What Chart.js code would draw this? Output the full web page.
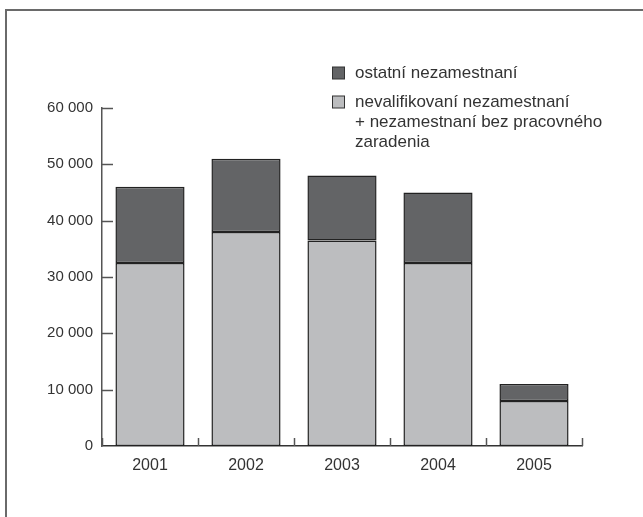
<!DOCTYPE html>
<html>
<head>
<meta charset="utf-8">
<script src="https://cdn.jsdelivr.net/npm/chart.js@4.4.0/dist/chart.umd.min.js"></script>
<style>
  html, body { margin: 0; padding: 0; background: #fff; }
  #wrap { position: relative; width: 643px; height: 517px; overflow: hidden; }
  #frame { position: absolute; left: 5px; top: 9px; width: 700px; height: 600px;
           border-top: 2px solid #6a6a6a; border-left: 2px solid #6a6a6a; }
  canvas { position: absolute; left: 0; top: 0; }
</style>
</head>
<body>
<div id="wrap">
  <div id="frame"></div>
  <canvas id="c" width="643" height="517"></canvas>
</div>
<script>
const categories = ['2001', '2002', '2003', '2004', '2005'];
const unskilled = [32500, 38000, 36500, 32500, 8000];
const others = [13500, 13000, 11500, 12500, 3000];
const yTicks = [0, 10000, 20000, 30000, 40000, 50000, 60000];
const seriesLabels = ['nevalifikovaní nezamestnaní\n+ nezamestnaní bez pracovného\nzaradenia', 'ostatní nezamestnaní'];

const FONT = '"Liberation Sans", Arial, sans-serif';
const TXT = '#333';
const AX = '#555';

function fmt(v) {
  return String(v).replace(/\B(?=(\d{3})+(?!\d))/g, ' ');
}

const extras = {
  id: 'extras',
  afterDraw(chart) {
    const ctx = chart.ctx;
    const xs = chart.scales.x, ys = chart.scales.y;
    const area = chart.chartArea;
    ctx.save();
    ctx.strokeStyle = AX;
    ctx.lineWidth = 1.5;
    yTicks.forEach(v => {
      if (v === 0) return;
      const y = Math.round(ys.getPixelForValue(v)) + 0.5;
      ctx.beginPath();
      ctx.moveTo(area.left, y);
      ctx.lineTo(area.left + 11, y);
      ctx.stroke();
    });
    const n = categories.length;
    const half = (xs.getPixelForValue(1) - xs.getPixelForValue(0)) / 2;
    for (let i = 0; i <= n; i++) {
      const x = Math.round(i < n ? xs.getPixelForValue(i) - half : xs.getPixelForValue(n - 1) + half) + 0.5;
      ctx.beginPath();
      ctx.moveTo(x, area.bottom);
      ctx.lineTo(x, area.bottom - 8);
      ctx.stroke();
    }
    ctx.font = '17px ' + FONT;
    ctx.textBaseline = 'middle';
    ctx.textAlign = 'left';
    const ds = chart.data.datasets.slice().reverse();
    let y = 73;
    ds.forEach(d => {
      ctx.fillStyle = d.backgroundColor;
      ctx.fillRect(332.5, y - 6, 12, 12);
      ctx.strokeStyle = '#333';
      ctx.lineWidth = 1;
      ctx.strokeRect(332.5, y - 6, 12, 12);
      ctx.fillStyle = TXT;
      const lines = d.label.split('\n');
      lines.forEach((ln, k) => {
        ctx.fillText(ln, 355, y + k * 20);
      });
      y += 29;
    });
    ctx.restore();
  }
};

new Chart(document.getElementById('c'), {
  type: 'bar',
  data: {
    labels: categories,
    datasets: [
      { label: seriesLabels[0], data: unskilled, backgroundColor: '#bcbdbf', borderColor: '#222', borderWidth: 1.5, borderSkipped: false },
      { label: seriesLabels[1], data: others, backgroundColor: '#636466', borderColor: '#222', borderWidth: 1.5, borderSkipped: false }
    ]
  },
  options: {
    responsive: false,
    animation: false,
    devicePixelRatio: 1,
    layout: { padding: { left: 0, top: 108, right: 61, bottom: 0 } },
    datasets: { bar: { barPercentage: 0.72, categoryPercentage: 1 } },
    plugins: { legend: { display: false }, tooltip: { enabled: false } },
    scales: {
      x: {
        stacked: true,
        grid: { display: false, drawTicks: false },
        border: { display: true, color: '#333', width: 1.5 },
        ticks: { color: TXT, font: { family: FONT, size: 16 }, padding: 10 },
        afterFit(s) { s.height = 71; }
      },
      y: {
        stacked: true,
        min: 0, max: 60000,
        afterBuildTicks(s) { s.ticks = yTicks.map(v => ({ value: v })); },
        grid: { display: false, drawTicks: false },
        border: { display: true, color: AX, width: 1.5 },
        ticks: { color: TXT, font: { family: FONT, size: 15 }, padding: 9, callback: v => fmt(v) },
        afterFit(s) { s.width = 102; }
      }
    }
  },
  plugins: [extras]
});
</script>
</body>
</html>
